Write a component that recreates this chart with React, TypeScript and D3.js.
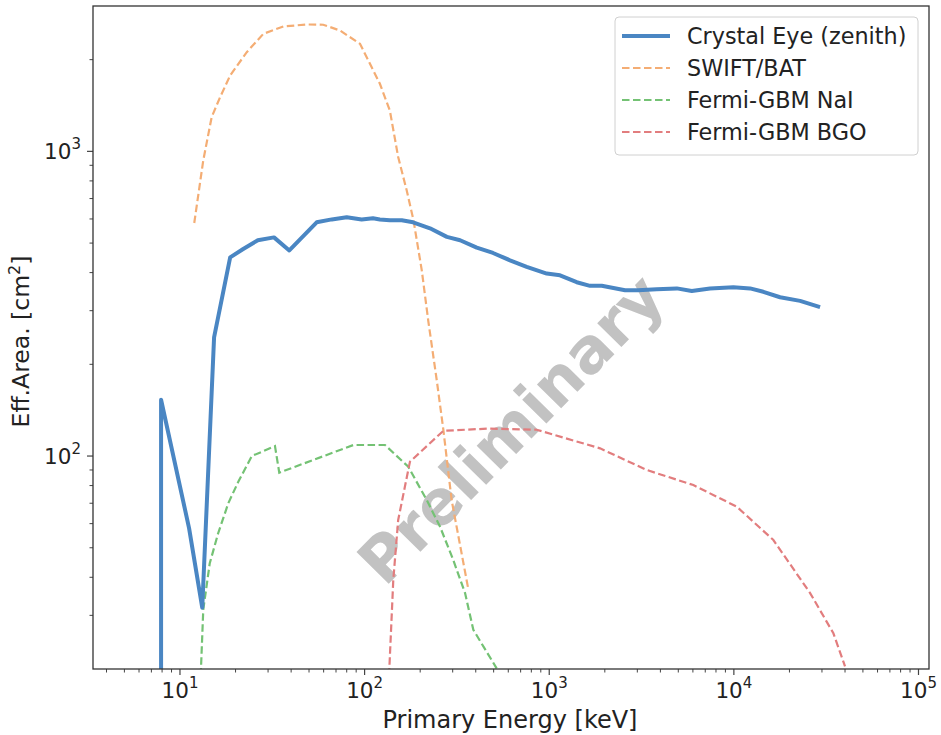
import React, { useRef, useEffect } from 'react';
import * as d3 from 'd3';

// Crystal Eye (zenith)
const ceEnergy = [7.9, 7.9, 11.2, 13.2, 15.3, 18.7, 22, 26.4, 32.3, 39.1, 55, 66.4, 80, 96.4, 111, 121, 137, 159, 183, 226, 279, 329, 405, 496, 613, 755, 969, 1144, 1409, 1663, 1925, 2575, 3028, 3822, 4909, 5916, 7430, 9940, 12240, 14450, 17790, 22840, 29300];
const ceArea = [10, 153, 58, 31.8, 245, 449, 478, 511, 522, 473, 585, 598, 608, 598, 603, 598, 594, 594, 585, 559, 524, 511, 483, 464, 439, 418, 397, 392, 372, 362, 362, 350, 350, 353, 355, 348, 355, 358, 355, 346, 332, 323, 308];

// SWIFT/BAT
const batEnergy = [11.95, 13.37, 14.85, 16.5, 18.7, 23.0, 28.3, 36.3, 48.6, 59.7, 73.6, 94.4, 121, 137, 152, 169, 184, 204, 221, 246, 267, 296, 365];
const batArea = [582, 934, 1296, 1507, 1775, 2116, 2432, 2570, 2609, 2604, 2493, 2255, 1667, 1362, 958, 745, 594, 407, 279, 177, 122, 71.7, 36.4];

// Fermi-GBM NaI
const naiEnergy = [12.95, 13.37, 14.5, 16.1, 18.27, 20.7, 24.5, 32.7, 34.5, 86.9, 129, 172.5, 217, 256, 302, 350, 388, 519];
const naiArea = [19, 31.3, 44.5, 55.8, 70, 82.4, 100, 107.8, 88.2, 108.7, 108.7, 92.2, 71.7, 58.7, 45.6, 35.5, 26.9, 20.1];

// Fermi-GBM BGO
const bgoEnergy = [135.6, 143, 152, 176, 267, 459, 855, 1884, 3375, 6034, 10370, 16370, 25880, 34600, 40000];
const bgoArea = [19, 39.2, 61.7, 95.8, 121, 123, 122, 106, 90, 80.3, 68.2, 53, 35.5, 26.2, 20.4];

const xTicks = [10, 100, 1000, 10000, 100000];
const xTickExp = ['1', '2', '3', '4', '5'];
const yTicks = [100, 1000];
const yTickExp = ['2', '3'];

const seriesNames = ['Crystal Eye (zenith)', 'SWIFT/BAT', 'Fermi-GBM NaI', 'Fermi-GBM BGO'];

const FONT = "'DejaVu Sans', sans-serif";

const plot = (svgRef: any) => {
  const svg = d3.select(svgRef.current);
  svg.selectAll('*').remove();

  const margin = { left: 93, top: 6, right: 12, bottom: 66 };
  const width = 941;
  const height = 735;

  const xScale = d3.scaleLog()
    .domain([3.38, 114000])
    .range([margin.left, width - margin.right]);

  const yScale = d3.scaleLog()
    .domain([20, 3000])
    .range([height - margin.bottom, margin.top]);

  const [x0, x1] = xScale.range();
  const [y0, y1] = yScale.range();

  svg.append('defs').append('clipPath').attr('id', 'plotclip')
    .append('rect')
    .attr('x', x0).attr('y', y1)
    .attr('width', x1 - x0).attr('height', y0 - y1);

  const g = svg.append('g');

  // minor ticks
  const xMinor: number[] = [];
  const yMinor: number[] = [];
  for (let d = 1; d <= 100000; d *= 10) {
    for (let m = 2; m <= 9; m++) {
      const v = m * d;
      if (v > xScale.domain()[0] && v < xScale.domain()[1]) xMinor.push(v);
      if (v > yScale.domain()[0] && v < yScale.domain()[1]) yMinor.push(v);
    }
  }

  const tickColor = '#444';

  g.selectAll('.xminor').data(xMinor).enter().append('line')
    .attr('x1', d => xScale(d)).attr('x2', d => xScale(d))
    .attr('y1', y0).attr('y2', y0 + 3.5)
    .attr('stroke', tickColor).attr('stroke-width', 1);

  g.selectAll('.yminor').data(yMinor).enter().append('line')
    .attr('x1', x0 - 3.5).attr('x2', x0)
    .attr('y1', d => yScale(d)).attr('y2', d => yScale(d))
    .attr('stroke', tickColor).attr('stroke-width', 1);

  g.selectAll('.xmajor').data(xTicks).enter().append('line')
    .attr('x1', d => xScale(d)).attr('x2', d => xScale(d))
    .attr('y1', y0).attr('y2', y0 + 6)
    .attr('stroke', tickColor).attr('stroke-width', 1.2);

  g.selectAll('.ymajor').data(yTicks).enter().append('line')
    .attr('x1', x0 - 6).attr('x2', x0)
    .attr('y1', d => yScale(d)).attr('y2', d => yScale(d))
    .attr('stroke', tickColor).attr('stroke-width', 1.2);

  // tick labels
  const xl = g.selectAll('.xlab').data(xTicks).enter().append('text')
    .attr('x', d => xScale(d))
    .attr('y', 698)
    .attr('text-anchor', 'middle')
    .attr('font-family', FONT)
    .attr('font-size', 21.5)
    .attr('fill', '#222');
  xl.append('tspan').text('10');
  xl.append('tspan').attr('dy', -10).attr('font-size', 15).text((d, i) => xTickExp[i]);

  const yl = g.selectAll('.ylab').data(yTicks).enter().append('text')
    .attr('x', 81)
    .attr('y', d => yScale(d) + 8)
    .attr('text-anchor', 'end')
    .attr('font-family', FONT)
    .attr('font-size', 21.5)
    .attr('fill', '#222');
  yl.append('tspan').text('10');
  yl.append('tspan').attr('dy', -10).attr('font-size', 15).text((d, i) => yTickExp[i]);

  // axis labels
  g.append('text')
    .attr('x', 510)
    .attr('y', 728)
    .attr('text-anchor', 'middle')
    .attr('font-family', FONT)
    .attr('font-size', 24)
    .attr('fill', '#222')
    .text('Primary Energy [keV]');

  const ylab = g.append('text')
    .attr('transform', `translate(29, ${(y0 + y1) / 2 + 4}) rotate(-90)`)
    .attr('text-anchor', 'middle')
    .attr('font-family', FONT)
    .attr('font-size', 23.5)
    .attr('fill', '#222');
  ylab.append('tspan').text('Eff.Area. [cm');
  ylab.append('tspan').attr('dy', -9).attr('font-size', 16).text('2');
  ylab.append('tspan').attr('dy', 9).text(']');

  // watermark
  g.append('text')
    .attr('transform', `translate(514, 432) rotate(-45.5)`)
    .attr('text-anchor', 'middle')
    .attr('dominant-baseline', 'middle')
    .attr('font-family', FONT)
    .attr('font-weight', 'bold')
    .attr('font-size', 62)
    .attr('fill', '#c2c2c2')
    .text('Preliminary');

  // data lines
  const line = d3.line<[number, number]>()
    .x(d => xScale(d[0]))
    .y(d => yScale(d[1]));

  const lines = g.append('g').attr('clip-path', 'url(#plotclip)');

  const dashed = [
    { e: batEnergy, a: batArea, color: '#f4ad74' },
    { e: naiEnergy, a: naiArea, color: '#74c274' },
    { e: bgoEnergy, a: bgoArea, color: '#e27d7e' },
  ];

  dashed.forEach(s => {
    lines.append('path')
      .datum(s.e.map((v, i) => [v, s.a[i]] as [number, number]))
      .attr('fill', 'none')
      .attr('stroke', s.color)
      .attr('stroke-width', 2.2)
      .attr('stroke-dasharray', '7.5,3.5')
      .attr('d', line);
  });

  lines.append('path')
    .datum(ceEnergy.map((v, i) => [v, ceArea[i]] as [number, number]))
    .attr('fill', 'none')
    .attr('stroke', '#4a86c3')
    .attr('stroke-width', 4)
    .attr('stroke-linejoin', 'round')
    .attr('d', line);

  // frame
  g.append('rect')
    .attr('x', x0).attr('y', y1)
    .attr('width', x1 - x0).attr('height', y0 - y1)
    .attr('fill', 'none')
    .attr('stroke', '#333')
    .attr('stroke-width', 1.3);

  // legend
  const legend = g.append('g');
  legend.append('rect')
    .attr('x', 615).attr('y', 17)
    .attr('width', 303).attr('height', 138)
    .attr('rx', 4)
    .attr('fill', 'white')
    .attr('fill-opacity', 0.8)
    .attr('stroke', '#d0d0d0')
    .attr('stroke-width', 1);

  const legendColors = ['#4a86c3', '#f4ad74', '#74c274', '#e27d7e'];
  seriesNames.forEach((name, i) => {
    const ly = 36 + i * 32;
    legend.append('line')
      .attr('x1', 622).attr('x2', 670)
      .attr('y1', ly).attr('y2', ly)
      .attr('stroke', legendColors[i])
      .attr('stroke-width', i === 0 ? 4 : 2.2)
      .attr('stroke-dasharray', i === 0 ? null : '7.5,3.5');
    legend.append('text')
      .attr('x', 687).attr('y', ly + 8)
      .attr('font-family', FONT)
      .attr('font-size', 22.3)
      .attr('fill', '#222')
      .text(name);
  });
};

export default function App() {
  const svgRef = useRef(null);

  useEffect(() => {
    plot(svgRef);
  }, []);

  return (
    <svg ref={svgRef} width={941} height={735}
      style={{ position: 'absolute', left: 0, top: 0, background: 'white' }} />
  );
}
